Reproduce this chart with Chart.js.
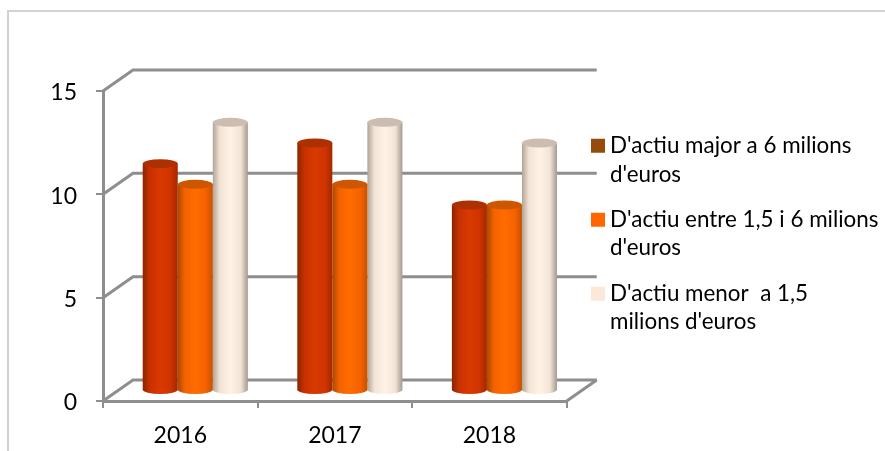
<!DOCTYPE html>
<html lang="ca">
<head>
    <meta charset="UTF-8">
    <title>Actiu</title>
    <script src="https://cdn.jsdelivr.net/npm/chart.js"></script>
    <style>
        html, body { margin: 0; padding: 0; background: #fff; }
        #wrap { position: relative; width: 885px; height: 451px; }
        #frame { position: absolute; left: 7px; top: 10px; width: 878px; height: 441px; box-sizing: border-box;
                 border-left: 2px solid #d2d2d2; border-top: 2px solid #d2d2d2; }
        canvas { position: absolute; left: 0; top: 0; }
    </style>
</head>
<body>
<div id="wrap">
    <div id="frame"></div>
    <canvas id="myChart" width="885" height="451"></canvas>
</div>
<script>
var categories = ['2016', '2017', '2018'];
var seriesNames = [
    ["D'actiu major a 6 milions", "d'euros"],
    ["D'actiu entre 1,5 i 6 milions", "d'euros"],
    ["D'actiu menor  a 1,5", "milions d'euros"]
];
var major = [11, 12, 9];
var entre = [10, 10, 9];
var menor = [13, 13, 12];
var yTicks = [0, 5, 10, 15];

var legendColors = ['#964b0a', '#ff6600', '#fce8da'];
// dark edge, mid, bright, mid, dark edge of each cylinder
var bodyStops = [
    ['#8a2400', '#c83000', '#d93a00', '#cf3300', '#a32800'],
    ['#a84a00', '#f56200', '#ff6c00', '#f56200', '#c85000'],
    ['#b0a498', '#f3e3d4', '#fff3e6', '#f3e3d4', '#a39a90']
];
var topColors = ['#ad3000', '#cf5600', '#cdbdb0'];
var gray = '#8e8e8e';

// depth of the 3D box, and where the bars stand inside it
var depthX = 30, depthY = -21;
var barShiftX = 15, barShiftY = -10;
var barPct = 0.68;

function bodyGradient(c) {
    var chart = c.chart, x = chart.scales.x;
    if (!x) return legendColors[c.datasetIndex];
    var w = x.width / categories.length * barPct / 3;
    var left = x.getPixelForValue(c.dataIndex) + (c.datasetIndex - 1.5) * w;
    var g = chart.ctx.createLinearGradient(left, 0, left + w, 0);
    var s = bodyStops[c.datasetIndex];
    g.addColorStop(0, s[0]);
    g.addColorStop(0.2, s[1]);
    g.addColorStop(0.5, s[2]);
    g.addColorStop(0.8, s[3]);
    g.addColorStop(1, s[4]);
    return g;
}

var box3d = {
    id: 'box3d',
    beforeDatasetsDraw: function (chart) {
        var ctx = chart.ctx, xs = chart.scales.x, ys = chart.scales.y;
        ctx.save();
        ctx.strokeStyle = gray;
        ctx.lineWidth = 3;
        yTicks.forEach(function (t) {
            var y = ys.getPixelForValue(t);
            ctx.beginPath();
            ctx.moveTo(xs.left, y);
            ctx.lineTo(xs.left + depthX, y + depthY);
            ctx.lineTo(xs.right + depthX, y + depthY);
            ctx.stroke();
        });
        var y0 = ys.getPixelForValue(0);
        ctx.beginPath();
        ctx.moveTo(xs.right, y0);
        ctx.lineTo(xs.right + depthX, y0 + depthY);
        ctx.stroke();
        ctx.restore();
        // bars stand in the middle of the floor
        ctx.save();
        ctx.translate(barShiftX, barShiftY);
    },
    afterDatasetsDraw: function (chart) {
        var ctx = chart.ctx;
        chart.data.datasets.forEach(function (ds, i) {
            chart.getDatasetMeta(i).data.forEach(function (bar) {
                var ry = 4.5, rx = bar.width / 2;
                ctx.fillStyle = bar.options.backgroundColor;
                ctx.beginPath();
                ctx.ellipse(bar.x, bar.base - 0.5, rx, ry, 0, 0, Math.PI);
                ctx.fill();
                ctx.fillStyle = topColors[i];
                ctx.beginPath();
                ctx.ellipse(bar.x, bar.y, rx, ry, 0, 0, Math.PI * 2);
                ctx.fill();
            });
        });
        ctx.restore();
    },
    afterLayout: function (chart) {
        var dx = 591 + 6.2 - 17 - chart.legend.left;
        chart.legend.left += dx;
        chart.legend.right += dx;
        chart.legend.top -= 34;
        chart.legend.bottom -= 34;
    }
};

new Chart(document.getElementById('myChart'), {
    type: 'bar',
    data: {
        labels: categories,
        datasets: [major, entre, menor].map(function (values) {
            return {
                data: values,
                backgroundColor: bodyGradient,
                borderWidth: 0,
                categoryPercentage: barPct,
                barPercentage: 1,
                clip: false
            };
        })
    },
    options: {
        responsive: false,
        animation: false,
        layout: { padding: { left: 0, top: 91, right: 10, bottom: 0 } },
        plugins: {
            tooltip: { enabled: false },
            legend: {
                position: 'right',
                align: 'center',
                maxWidth: 318,
                labels: {
                    color: '#1a1a1a',
                    font: { family: 'Lato', size: 22.4, lineHeight: 1.27 },
                    boxWidth: 1.6,
                    boxHeight: 1.6,
                    padding: 17,
                    generateLabels: function () {
                        return seriesNames.map(function (name, i) {
                            return { text: name, fillStyle: legendColors[i], strokeStyle: legendColors[i],
                                     lineWidth: 12.4, datasetIndex: i };
                        });
                    }
                }
            }
        },
        scales: {
            x: {
                offset: true,
                afterFit: function (scale) { scale.height = 50; },
                grid: { offset: true, drawOnChartArea: false, color: gray, lineWidth: 2, tickLength: 7 },
                border: { color: gray, width: 3 },
                ticks: { color: '#000', font: { family: 'Lato', size: 23 }, padding: 14 }
            },
            y: {
                min: 0,
                max: 15,
                afterFit: function (scale) { scale.width = 103; },
                grid: { drawOnChartArea: false, color: gray, lineWidth: 2, tickLength: 7 },
                border: { color: gray, width: 3 },
                ticks: { stepSize: 5, color: '#000', font: { family: 'Lato', size: 23 }, padding: 19, labelOffset: 2 }
            }
        }
    },
    plugins: [box3d]
});
</script>
</body>
</html>
